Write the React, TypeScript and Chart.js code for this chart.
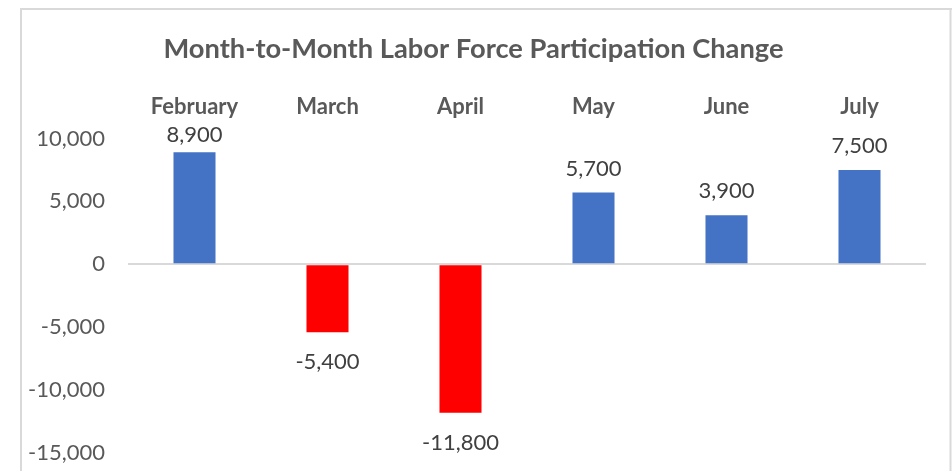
import React, { useEffect, useRef } from "react";
import { Chart, registerables } from "chart.js";

Chart.register(...registerables);

const categories = ["February", "March", "April", "May", "June", "July"];
const changes = [8900, -5400, -11800, 5700, 3900, 7500];
const yTicks = [10000, 5000, 0, -5000, -10000, -15000];
const titleText = "Month-to-Month Labor Force Participation Change";

const FONT = "Lato, 'Open Sans', sans-serif";
const fmt = (v: number) => v.toLocaleString("en-US");

const framePlugin = {
  id: "frame",
  beforeDraw(chart: any) {
    const { ctx, width, height } = chart;
    ctx.save();
    ctx.fillStyle = "#ffffff";
    ctx.fillRect(0, 0, width, height);
    ctx.strokeStyle = "#d9d9d9";
    ctx.lineWidth = 2;
    ctx.beginPath();
    ctx.moveTo(20, 9);
    ctx.lineTo(width, 9);
    ctx.moveTo(21, 8);
    ctx.lineTo(21, height);
    ctx.moveTo(950.5, 8);
    ctx.lineTo(950.5, height);
    ctx.stroke();
    ctx.restore();
  },
};

const labelPlugin = {
  id: "barLabels",
  afterDatasetsDraw(chart: any) {
    const { ctx } = chart;
    const meta = chart.getDatasetMeta(0);
    const data = chart.data.datasets[0].data as number[];
    ctx.save();
    ctx.font = `22px ${FONT}`;
    ctx.fillStyle = "#404040";
    ctx.textAlign = "center";
    ctx.textBaseline = "middle";
    meta.data.forEach((bar: any, i: number) => {
      const v = data[i];
      const y = v >= 0 ? Math.max(bar.y - 24, 135) : bar.y + 30;
      ctx.fillText(fmt(v), bar.x, y);
    });
    ctx.restore();
  },
};

export default function App() {
  const ref = useRef<HTMLCanvasElement | null>(null);
  useEffect(() => {
    if (!ref.current) return;
    const chart = new Chart(ref.current, {
      type: "bar",
      data: {
        labels: categories,
        datasets: [
          {
            data: changes,
            backgroundColor: changes.map((v) => (v >= 0 ? "#4472C4" : "#FF0000")),
            barPercentage: 0.316,
            categoryPercentage: 1,
          },
        ],
      },
      options: {
        responsive: false,
        animation: false,
        devicePixelRatio: 1,
        layout: { padding: { left: 21, right: 26, top: 0, bottom: 18 } },
        plugins: {
          legend: { display: false },
          tooltip: { enabled: false },
          title: {
            display: true,
            text: titleText,
            color: "#595959",
            font: { family: FONT, size: 27.3, weight: "bold", lineHeight: 1.2 },
            padding: { top: 32.4, bottom: 9.2 },
          },
        },
        scales: {
          x: {
            position: "top",
            grid: { display: false },
            border: { display: false },
            ticks: {
              color: "#595959",
              font: { family: FONT, size: 22, weight: "bold", lineHeight: 1.2 },
              padding: 10,
              maxRotation: 0,
            },
            afterFit: (scale: any) => {
              scale.height = 138.5 - 74.4;
              scale.paddingLeft = 0;
              scale.paddingRight = 0;
            },
          },
          y: {
            min: yTicks[yTicks.length - 1],
            max: yTicks[0],
            border: { display: false },
            grid: {
              drawTicks: false,
              lineWidth: 2,
              color: (c: any) => (c.tick && c.tick.value === 0 ? "#d9d9d9" : "rgba(0,0,0,0)"),
            },
            afterBuildTicks: (scale: any) => {
              scale.ticks = yTicks.map((v) => ({ value: v }));
            },
            ticks: {
              color: "#595959",
              font: { family: FONT, size: 22 },
              padding: 23,
              callback: (v: any) => fmt(Number(v)),
            },
            afterFit: (scale: any) => {
              scale.width = 107;
              scale.paddingTop = 0;
              scale.paddingBottom = 0;
            },
          },
        },
      },
      plugins: [framePlugin, labelPlugin],
    });
    return () => chart.destroy();
  }, []);
  return (
    <div style={{ position: "absolute", left: 0, top: 0, width: 952, height: 471 }}>
      <canvas ref={ref} width={952} height={471} />
    </div>
  );
}
